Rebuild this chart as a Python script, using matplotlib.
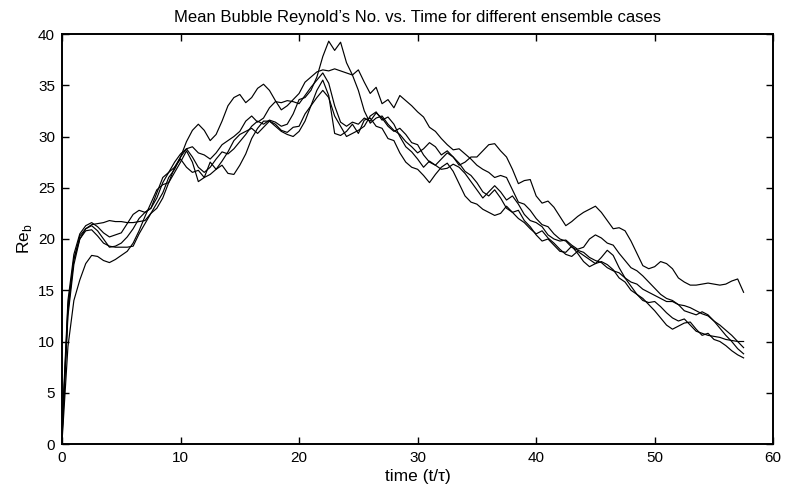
import numpy as np
import matplotlib
matplotlib.use('Agg')
import matplotlib.pyplot as plt

plt.rcParams['font.family'] = ['Liberation Sans', 'DejaVu Sans']
plt.rcParams['mathtext.fontset'] = 'custom'
plt.rcParams['mathtext.rm'] = 'Liberation Sans'

# time axis (t/tau), one sample every 0.5
t = np.arange(0, 58, 0.5)

# bubble Reynolds number for the five ensemble cases
case1 = [0.5, 12.5, 17.5, 20.0, 21.0, 21.4, 21.5, 21.6, 21.8, 21.7,
         21.7, 21.6, 21.6, 21.7, 21.8, 22.5, 23.5, 24.5, 26.0, 26.8,
         28.0, 29.5, 30.6, 31.2, 30.6, 29.6, 30.2, 31.5, 33.0, 33.8,
         34.1, 33.3, 33.8, 34.7, 35.1, 34.5, 33.5, 32.6, 33.0, 33.6,
         34.2, 35.3, 35.8, 36.3, 36.5, 36.4, 36.6, 36.4, 36.2, 36.0,
         36.5, 35.3, 34.2, 34.8, 33.2, 33.6, 32.8, 34.0, 33.5, 33.0,
         32.4, 31.9, 30.9, 30.5, 29.8, 29.2, 28.7, 28.8, 28.3, 27.8,
         27.2, 26.8, 26.5, 26.0, 26.2, 26.0, 24.8, 23.6, 23.4, 22.8,
         22.0, 21.4, 21.2, 20.5, 20.0, 19.8, 19.2, 18.9, 18.7, 18.2,
         17.9, 17.7, 17.2, 16.9, 16.7, 16.2, 15.8, 15.6, 15.1, 14.8,
         14.5, 14.2, 13.9, 13.9, 13.6, 13.5, 13.3, 13.0, 12.7, 12.5,
         12.0, 11.6, 11.1, 10.6, 10.0, 9.4]
case2 = [1.0, 13.5, 18.0, 20.3, 21.0, 21.3, 20.8, 20.0, 19.2, 19.3,
         19.6, 20.2, 21.0, 22.0, 22.6, 23.0, 24.5, 26.0, 26.5, 27.5,
         28.3, 28.8, 28.0, 27.0, 26.5, 27.0, 27.8, 28.5, 28.3, 28.8,
         29.5, 30.2, 31.0, 31.5, 31.2, 31.6, 31.4, 31.0, 31.2, 32.2,
         33.6, 33.8, 34.5, 35.8, 37.8, 39.3, 38.4, 39.2, 37.2, 36.0,
         34.5, 32.5, 31.3, 31.8, 32.0, 31.2, 30.6, 30.2, 29.5, 29.0,
         28.4, 28.8, 29.4, 29.0, 28.2, 28.6, 28.0, 27.4, 26.6, 26.2,
         25.5, 24.6, 24.2, 24.8, 24.0, 23.0, 22.6, 22.0, 21.6, 21.0,
         20.5, 20.8, 20.1, 19.6, 19.0, 18.5, 18.3, 18.8, 18.4, 18.0,
         17.6, 17.8, 17.5, 17.0, 16.2, 15.8, 15.0, 14.6, 14.2, 13.6,
         13.0, 12.3, 11.6, 11.2, 11.5, 11.8, 11.9, 11.2, 10.6, 10.8,
         10.2, 10.0, 9.6, 9.1, 8.7, 8.4]
case3 = [0.2, 9.5, 14.0, 16.0, 17.6, 18.4, 18.3, 17.9, 17.7, 18.0,
         18.4, 18.8, 19.6, 20.8, 22.2, 23.5, 24.8, 25.3, 25.5, 26.5,
         27.5, 28.6, 27.5, 25.6, 26.0, 27.5, 26.8, 27.2, 26.4, 26.3,
         27.2, 28.3, 29.8, 30.8, 31.5, 31.5, 31.0, 30.5, 30.2, 30.0,
         30.5, 31.5, 33.0, 34.5, 35.5, 34.0, 30.3, 30.1, 30.5, 31.2,
         30.3, 31.6, 31.8, 31.0, 30.8, 29.8, 29.6, 28.4, 27.5, 27.0,
         26.8, 26.2, 25.5, 26.3, 27.0, 27.4, 26.6, 25.4, 24.2, 23.6,
         23.4, 22.9, 22.6, 22.3, 22.5, 23.2, 22.6, 22.8, 21.8, 21.2,
         20.4, 19.8, 20.0, 19.4, 18.8, 18.7, 19.3, 18.6, 17.8, 17.3,
         17.6, 18.2, 18.9, 18.4, 17.2, 16.2, 15.4, 14.6, 14.0, 13.8,
         13.9, 13.4, 12.8, 12.3, 12.0, 12.2, 11.6, 11.0, 10.8, 10.6,
         10.5, 10.4, 10.2, 10.1, 10.0, 10.0]
case4 = [1.5, 14.0, 18.5, 20.5, 21.3, 21.6, 21.2, 20.6, 20.2, 20.4,
         20.6, 21.5, 22.4, 22.8, 22.6, 23.0, 24.0, 25.5, 26.5, 27.0,
         28.0, 28.8, 29.0, 28.4, 28.2, 27.8, 28.4, 29.2, 29.6, 30.0,
         30.5, 31.5, 32.0, 31.4, 31.8, 32.8, 33.4, 33.3, 33.5, 33.4,
         33.2, 34.0, 34.8, 35.5, 36.2, 35.2, 33.0, 31.4, 31.0, 31.4,
         31.2, 31.8, 31.5, 32.3, 31.8, 31.0, 30.5, 30.8, 30.2, 29.4,
         29.2, 28.2, 27.5, 27.2, 27.8, 28.4, 28.0, 27.2, 27.5, 28.0,
         28.0, 28.6, 29.2, 29.3, 28.6, 28.0, 26.8, 25.4, 25.7, 25.8,
         24.2, 23.5, 23.7, 23.1, 22.2, 21.3, 21.7, 22.2, 22.6, 22.9,
         23.2, 22.6, 21.8, 21.0, 21.1, 20.8, 19.8, 18.6, 17.4, 17.1,
         17.3, 17.8, 17.6, 17.1, 16.2, 15.8, 15.5, 15.5, 15.6, 15.7,
         15.6, 15.5, 15.6, 15.9, 16.1, 14.8]
case5 = [0.8, 13.0, 18.0, 20.0, 20.8, 20.9, 20.3, 19.6, 19.3, 19.2,
         19.2, 19.2, 19.3, 20.5, 21.5, 22.5, 23.0, 24.0, 25.5, 27.0,
         27.8, 27.0, 26.5, 26.7, 26.0, 26.3, 26.8, 27.6, 28.5, 29.6,
         30.2, 30.5, 30.8, 30.3, 30.9, 31.5, 31.2, 30.6, 30.4, 30.9,
         31.0, 32.2, 33.0, 33.8, 34.5, 33.8, 32.0, 31.0, 30.0, 30.3,
         30.6, 31.0, 32.0, 32.4, 31.6, 31.9, 31.2, 30.0, 29.0, 28.5,
         27.8, 27.0, 27.6, 27.2, 26.8, 26.9, 27.3, 27.0, 26.4, 25.6,
         24.8, 24.0, 24.6, 25.2, 24.6, 23.8, 24.2, 23.4, 22.4, 21.8,
         21.6, 21.2, 20.4, 20.0, 19.8, 19.9, 19.4, 19.0, 19.2, 20.0,
         20.4, 20.1, 19.6, 19.4, 18.6, 17.9, 17.2, 16.9, 16.4, 15.8,
         15.2, 14.6, 14.2, 14.0, 13.6, 13.0, 12.8, 12.6, 12.9, 12.6,
         12.0, 11.3, 10.6, 10.0, 9.3, 8.8]

cases = [case1, case2, case3, case4, case5]

fig = plt.figure(figsize=(7.85, 5.0), dpi=100)
ax = fig.add_axes([0.079, 0.112, 0.906, 0.82])

for c in cases:
    ax.plot(t, c, color='black', linewidth=0.85)

ax.set_xlim(0, 60)
ax.set_ylim(0, 40)
ax.set_xticks(range(0, 61, 10))
ax.set_yticks(range(0, 41, 5))
ax.tick_params(direction='in', top=True, right=True, length=5, width=1,
               labelsize=11, pad=5)
for s in ax.spines.values():
    s.set_linewidth(1.4)

ax.set_title('Mean Bubble Reynold\u2019s No. vs. Time for different ensemble cases',
             fontsize=12, pad=9)
ax.set_xlabel('time (t/\u03c4)', fontsize=12.5, labelpad=3)
ax.set_ylabel('Re$_{\\mathrm{b}}$', fontsize=12.5, labelpad=3)

fig.savefig('out.png', dpi=100)
